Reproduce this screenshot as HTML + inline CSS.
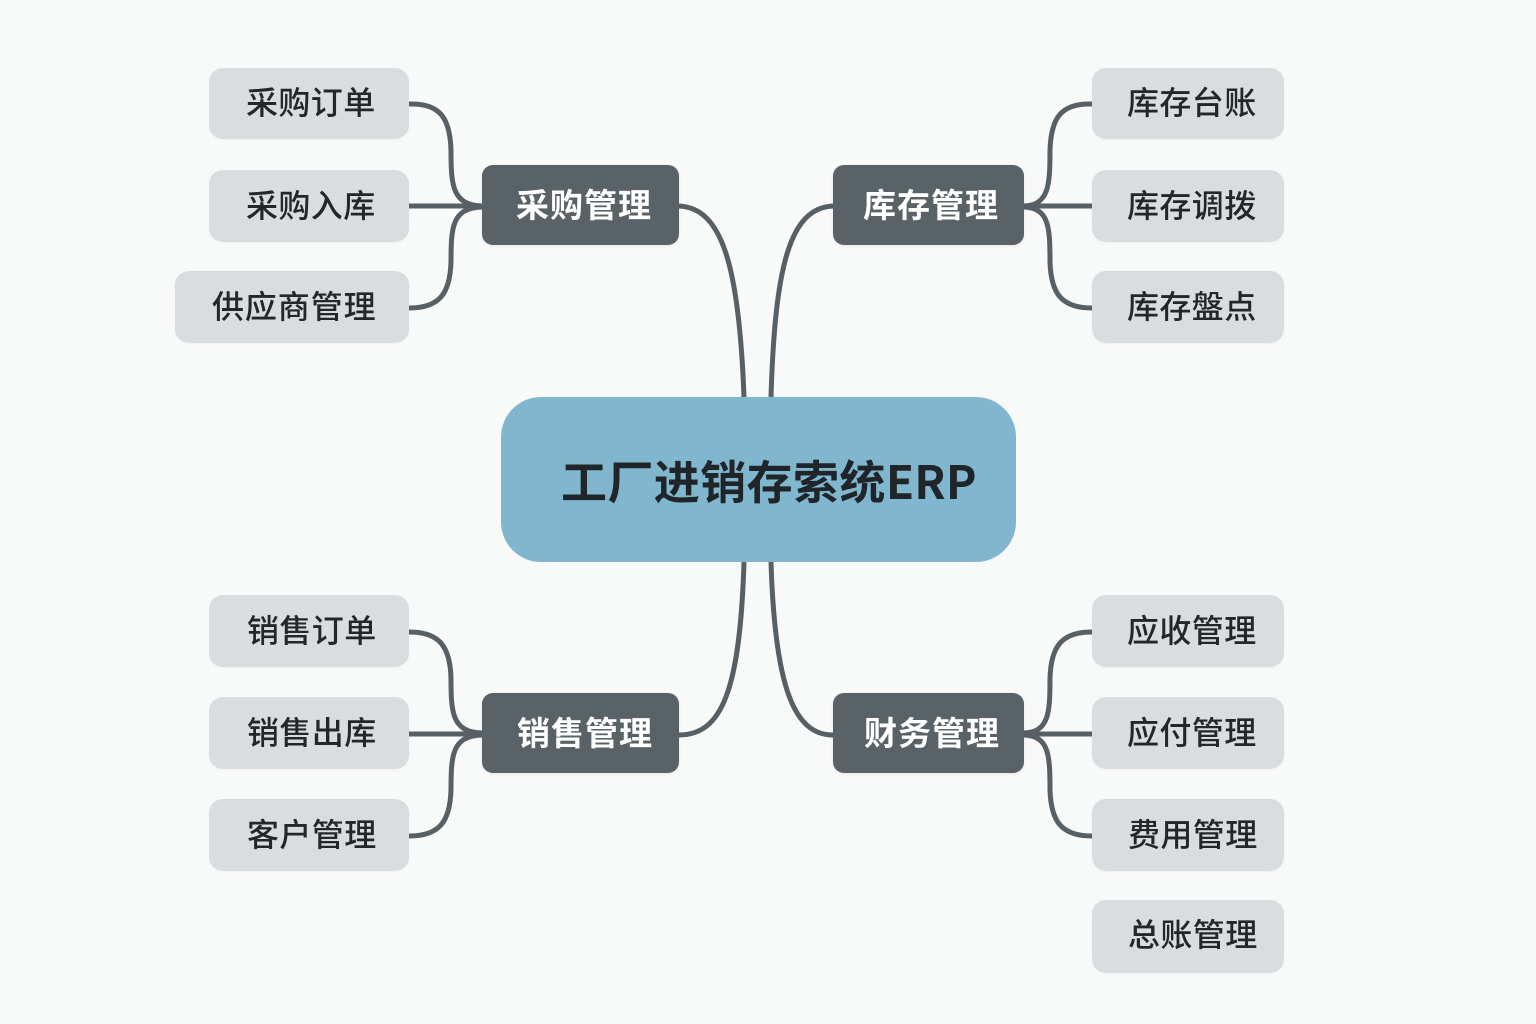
<!DOCTYPE html>
<html lang="zh">
<head>
<meta charset="utf-8">
<style>
html,body{margin:0;padding:0;background:#f8f9f9}
#c{position:relative;width:1536px;height:1024px;overflow:hidden;background:#f8f9f9;font-family:"Noto Sans CJK SC","Liberation Sans",sans-serif}
svg{position:absolute;left:0;top:0}
.b{position:absolute;box-sizing:border-box}
.l{background:#d9dddf;border-radius:14px;box-shadow:0 1px 3px rgba(0,0,0,.03)}
.m{background:#586267;border-radius:11px;box-shadow:0 1px 3px rgba(0,0,0,.08)}
.t{position:absolute;white-space:nowrap;line-height:1;color:#22272a;font-size:32px;letter-spacing:.4px;font-weight:500}
.w{color:#fff;font-size:33px;font-weight:700;letter-spacing:1px}
</style>
</head>
<body>
<div id="c">
<svg width="1536" height="1024" viewBox="0 0 1536 1024" fill="none" stroke="#566065" stroke-width="5">
<path d="M409 104C440 103 450 118 451 150C451 185 452 205 482 206"/>
<path d="M409 206H482"/>
<path d="M409 308C440 308 450 293 451 262C451 227 452 208 482 207"/>
<path d="M679 206C722 208 739 265 744 397"/>
<path d="M1092 104C1061 103 1051 118 1050 150C1050 185 1049 205 1024 206"/>
<path d="M1092 206H1024"/>
<path d="M1092 308C1061 308 1051 293 1050 262C1050 227 1049 208 1024 207"/>
<path d="M833 206C790 208 775 265 771 397"/>
<path d="M409 632C440 632 450 647 451 678C451 713 452 732 482 733"/>
<path d="M409 734H482"/>
<path d="M409 836C440 836 450 821 451 790C451 755 452 736 482 735"/>
<path d="M679 735C722 735 740 690 744 562"/>
<path d="M1092 632C1061 632 1051 647 1050 678C1050 713 1049 732 1024 733"/>
<path d="M1092 734H1024"/>
<path d="M1092 836C1061 836 1051 821 1050 790C1050 755 1049 736 1024 735"/>
<path d="M833 735C795 735 775 690 771 562"/>
</svg>

<div class="b" style="left:501px;top:397px;width:515px;height:165px;background:#80b7cf;border-radius:40px;"></div>
<div class="t" style="left:561px;top:457px;font-size:46px;font-weight:700;letter-spacing:.4px;color:#1f2529">工厂进销存索统<span style="letter-spacing:.2px">ERP</span></div>

<div class="b m" style="left:482px;top:165px;width:197px;height:80px"></div>
<div class="t w" style="left:516px;top:187px">采购管理</div>
<div class="b m" style="left:833px;top:165px;width:191px;height:80px"></div>
<div class="t w" style="left:863px;top:187px">库存管理</div>
<div class="b m" style="left:482px;top:693px;width:197px;height:80px"></div>
<div class="t w" style="left:517px;top:715px">销售管理</div>
<div class="b m" style="left:833px;top:693px;width:191px;height:80px"></div>
<div class="t w" style="left:864px;top:715px">财务管理</div>

<div class="b l" style="left:209px;top:68px;width:200px;height:71px"></div>
<div class="t" style="left:246px;top:85px">采购订单</div>
<div class="b l" style="left:209px;top:170px;width:200px;height:72px"></div>
<div class="t" style="left:246px;top:188px">采购入库</div>
<div class="b l" style="left:175px;top:271px;width:234px;height:72px"></div>
<div class="t" style="left:212px;top:289px;letter-spacing:.9px">供应商管理</div>

<div class="b l" style="left:1092px;top:68px;width:192px;height:71px"></div>
<div class="t" style="left:1127px;top:85px">库存台账</div>
<div class="b l" style="left:1092px;top:170px;width:192px;height:72px"></div>
<div class="t" style="left:1127px;top:188px">库存调拨</div>
<div class="b l" style="left:1092px;top:271px;width:192px;height:72px"></div>
<div class="t" style="left:1127px;top:289px">库存盤点</div>

<div class="b l" style="left:209px;top:595px;width:200px;height:72px"></div>
<div class="t" style="left:247px;top:613px">销售订单</div>
<div class="b l" style="left:209px;top:697px;width:200px;height:72px"></div>
<div class="t" style="left:247px;top:715px">销售出库</div>
<div class="b l" style="left:209px;top:799px;width:200px;height:72px"></div>
<div class="t" style="left:247px;top:817px">客户管理</div>

<div class="b l" style="left:1092px;top:595px;width:192px;height:72px"></div>
<div class="t" style="left:1127px;top:613px">应收管理</div>
<div class="b l" style="left:1092px;top:697px;width:192px;height:72px"></div>
<div class="t" style="left:1127px;top:715px">应付管理</div>
<div class="b l" style="left:1092px;top:799px;width:192px;height:72px"></div>
<div class="t" style="left:1128px;top:817px">费用管理</div>
<div class="b l" style="left:1092px;top:900px;width:192px;height:73px"></div>
<div class="t" style="left:1128px;top:917px">总账管理</div>
</div>
</body>
</html>
